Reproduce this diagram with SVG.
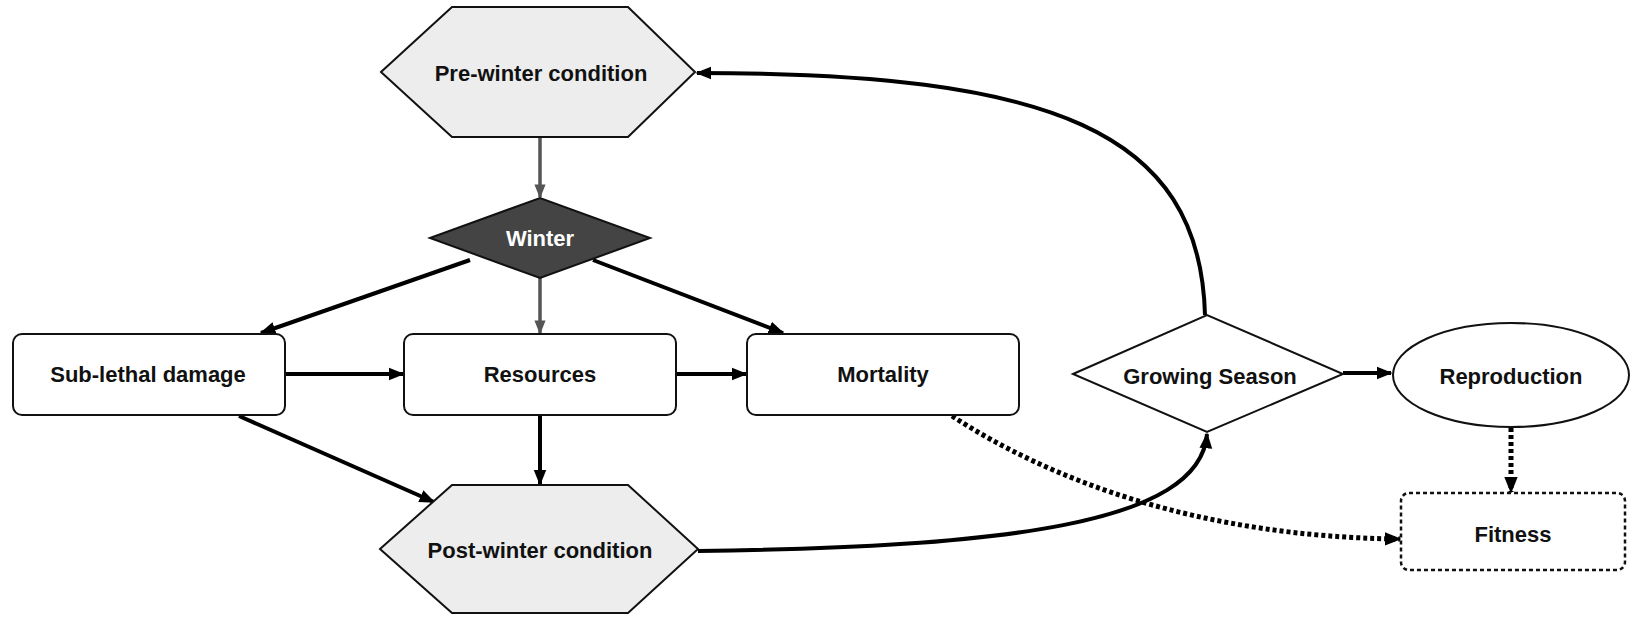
<svg xmlns="http://www.w3.org/2000/svg" width="1631" height="618" viewBox="0 0 1631 618">
<style>
text{font-family:"Liberation Sans",Arial,sans-serif;font-weight:bold;font-size:22px;fill:#111;text-anchor:middle;dominant-baseline:central}
.hex{fill:#ededed;stroke:#111;stroke-width:2}
.box{fill:#fff;stroke:#111;stroke-width:2}
.c{fill:none;stroke:#000;stroke-width:4}
.g{fill:none;stroke:#555;stroke-width:3.5}
.d{fill:none;stroke:#000;stroke-width:5;stroke-dasharray:4 3}
</style>
<defs>
<marker id="a" viewBox="0 0 10 10" refX="9" refY="5" markerWidth="4" markerHeight="4" orient="auto" markerUnits="strokeWidth"><path d="M0,1 L10,5 L0,9 z" fill="#000"/></marker>
<marker id="ag" viewBox="0 0 10 10" refX="9" refY="5" markerWidth="4" markerHeight="4" orient="auto" markerUnits="strokeWidth"><path d="M0,1 L10,5 L0,9 z" fill="#555"/></marker>
<marker id="ad" viewBox="0 0 10 10" refX="9" refY="5" markerWidth="3.4" markerHeight="3.4" orient="auto" markerUnits="strokeWidth"><path d="M0,1 L10,5 L0,9 z" fill="#000"/></marker>
</defs>
<g id="connectors">
<path class="g" d="M540,137 L540,197" marker-end="url(#ag)"/>
<path class="g" d="M540,278 L540,333" marker-end="url(#ag)"/>
<path class="c" d="M470,260 L261,333" marker-end="url(#a)"/>
<path class="c" d="M593,260 L783,333" marker-end="url(#a)"/>
<path class="c" d="M285,374 L403,374" marker-end="url(#a)"/>
<path class="c" d="M676,374 L746,374" marker-end="url(#a)"/>
<path class="c" d="M540,415 L540,484" marker-end="url(#a)"/>
<path class="c" d="M239,416 L434,502" marker-end="url(#a)"/>
<path class="c" d="M698,551 C1000,547 1200,525 1207,434" marker-end="url(#a)"/>
<path class="c" d="M1205,315 C1200,130 1050,73 697,73" marker-end="url(#a)"/>
<path class="c" d="M1343,373 L1391,373" marker-end="url(#a)"/>
<path class="d" d="M1511,428 L1511,492" marker-end="url(#ad)"/>
<path class="d" d="M952,416 C1050,480 1200,537 1400,539" marker-end="url(#ad)"/>
</g>
<g id="pre-winter">
<polygon class="hex" points="381,72 452,7 628,7 695,72 628,137 452,137"/>
<text x="541" y="73">Pre-winter condition</text>
</g>
<g id="winter">
<polygon points="430,238 540,198 650,238 540,278" fill="#444" stroke="#111" stroke-width="2"/>
<text x="540" y="238" style="fill:#fff">Winter</text>
</g>
<g id="sub-lethal">
<rect class="box" x="13" y="334" width="272" height="81" rx="9"/>
<text x="148" y="374">Sub-lethal damage</text>
</g>
<g id="resources">
<rect class="box" x="404" y="334" width="272" height="81" rx="9"/>
<text x="540" y="374">Resources</text>
</g>
<g id="mortality">
<rect class="box" x="747" y="334" width="272" height="81" rx="9"/>
<text x="883" y="374">Mortality</text>
</g>
<g id="post-winter">
<polygon class="hex" points="380,549 452,485 628,485 698,549 628,613 452,613"/>
<text x="540" y="550">Post-winter condition</text>
</g>
<g id="growing-season">
<polygon class="box" points="1073,374 1207,315 1343,374 1207,432"/>
<text x="1210" y="376">Growing Season</text>
</g>
<g id="reproduction">
<ellipse class="box" cx="1511" cy="375" rx="118" ry="52"/>
<text x="1511" y="376">Reproduction</text>
</g>
<g id="fitness">
<rect x="1401" y="493" width="224" height="77" rx="8" fill="#fff" stroke="#111" stroke-width="2.5" stroke-dasharray="4 3"/>
<text x="1513" y="534">Fitness</text>
</g>
</svg>
